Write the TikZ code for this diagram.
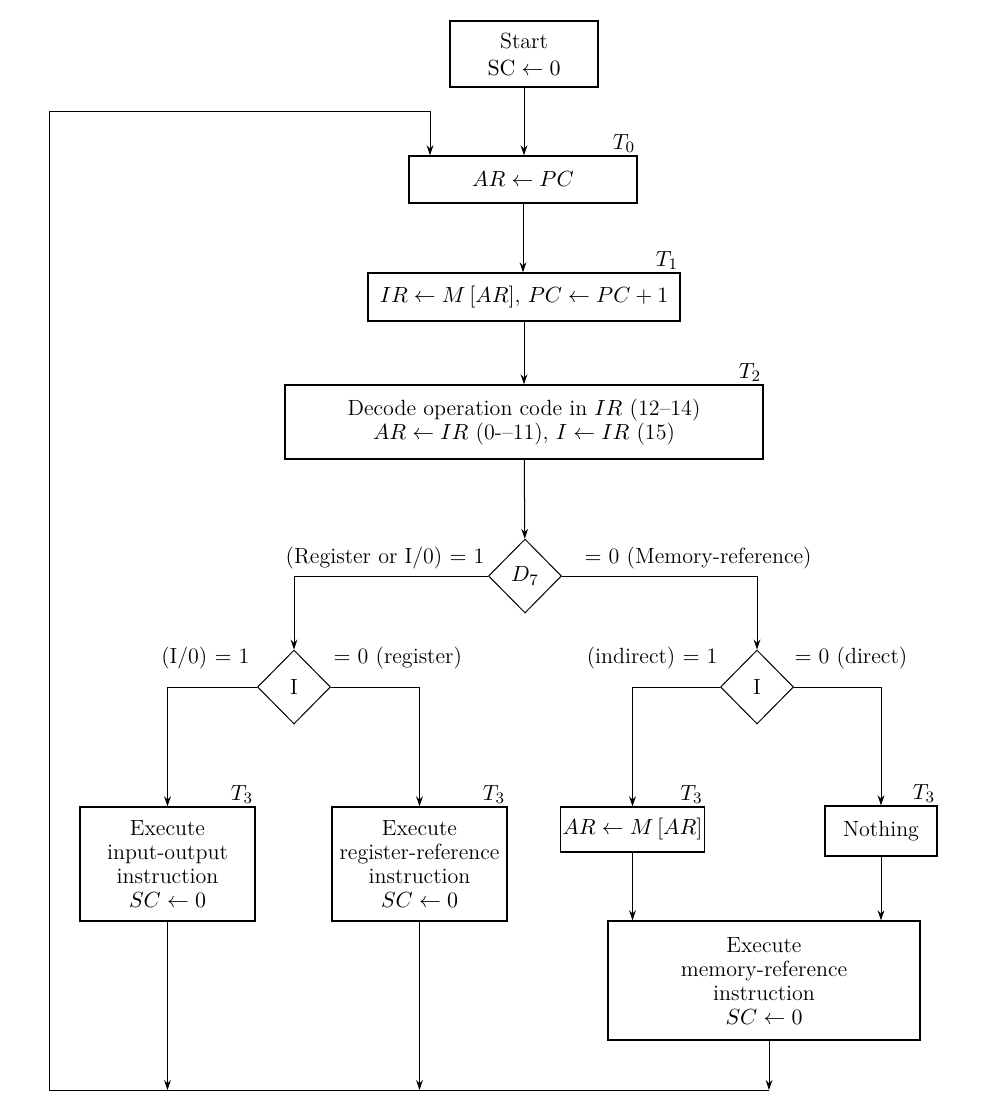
\documentclass[tikz,border=0pt]{standalone}
\usetikzlibrary{shapes.geometric,arrows.meta}
\begin{document}
\begin{tikzpicture}[x=0.5pt, y=-0.5pt, line width=0.5pt, >={Stealth[length=5pt,width=3.4pt]},
  every node/.style={font=\fontsize{11}{12}\selectfont},
  box/.style={draw, line width=0.7pt, align=center, inner sep=2pt},
  dec/.style={draw, diamond, aspect=1, inner sep=0pt, minimum width=36.5pt, minimum height=37pt},
  tlab/.style={anchor=south east, inner sep=1pt},
  elab/.style={inner sep=0pt}]
  \useasboundingbox (0,0) rectangle (1004,1114);
  % fetch and decode, one box per timing signal
  \node[box, minimum width=74pt, minimum height=33pt] (start) at (524,54) {Start\\[1.5pt] $\mathrm{SC}\leftarrow 0$};
  \node[box, minimum width=114pt, minimum height=23.5pt] (t0) at (523,179.5) {$AR\leftarrow PC$};
  \node[box, minimum width=156pt, minimum height=24pt] (t1) at (524,297) {$IR\leftarrow M\,[AR]$, $PC\leftarrow PC + 1$};
  \node[box, minimum width=239pt, minimum height=37pt] (dcd) at (524,422) {Decode operation code in $IR$ (12--14)\\ $AR\leftarrow IR$ (0-{}--11), $I\leftarrow IR$ (15)};
  \node[tlab] at (t0.north east) {$T_0$};
  \node[tlab] at (t1.north east) {$T_1$};
  \node[tlab] at (dcd.north east) {$T_2$};
  % decisions
  \node[dec] (d7) at (525,576) {$D_7$};
  \node[dec] (ia) at (294,687) {I};
  \node[dec] (ib) at (757,687) {I};
  \node[elab, anchor=base east] at ([xshift=-1.5pt,yshift=6.5pt]d7.west) {(Register or I/0) $=$ 1};
  \node[elab, anchor=base west] at ([xshift=11pt,yshift=6.5pt]d7.east) {$=$ 0 (Memory-reference)};
  \node[elab, anchor=base east] at ([xshift=-3.5pt,yshift=12pt]ia.west) {(I/0) $=$ 1};
  \node[elab, anchor=base west] at ([xshift=1pt,yshift=12pt]ia.east) {$=$ 0 (register)};
  \node[elab, anchor=base east] at ([xshift=-1pt,yshift=12pt]ib.west) {(indirect) $=$ 1};
  \node[elab, anchor=base west] at ([xshift=0pt,yshift=12pt]ib.east) {$=$ 0 (direct)};
  % execute at T3
  \node[box, minimum width=87.5pt, minimum height=57pt] (io) at (167.5,864) {Execute\\ input-output\\ instruction\\ $SC\leftarrow 0$};
  \node[box, minimum width=87.5pt, minimum height=57pt] (reg) at (419.5,864) {Execute\\ register-reference\\ instruction\\ $SC\leftarrow 0$};
  \node[box, minimum width=66.5pt, minimum height=22.5pt, inner sep=1pt] (ind) at (632.5,829.5) {$AR\leftarrow M\,[AR]$};
  \node[box, minimum width=56pt, minimum height=25pt] (noth) at (881,831) {Nothing};
  \node[box, minimum width=156pt, minimum height=59.5pt] (mem) at (764,980.5) {Execute\\ memory-reference\\ instruction\\ $SC\leftarrow 0$};
  \foreach \b in {io,reg,ind,noth} \node[tlab] at (\b.north east) {$T_3$};
  % connectors
  \coordinate (floor) at (49,1090);
  \coordinate (top) at (49,111);
  \coordinate (ret) at (769,1090);
  \draw[->] (start) -- (start |- t0.north);
  \draw[->] (t0) -- (t0 |- t1.north);
  \draw[->] (t1) -- (t1 |- dcd.north);
  \draw[->] (dcd) -- (d7);
  \draw[->] (d7.west) -| (ia);
  \draw[->] (d7.east) -| (ib);
  \draw[->] (ia.west) -| (io);
  \draw[->] (ia.east) -| (reg);
  \draw[->] (ib.west) -| (ind);
  \draw[->] (ib.east) -| (noth);
  \draw[->] (ind) -- (ind |- mem.north);
  \draw[->] (noth) -- (noth |- mem.north);
  \draw[->] (io) -- (io |- floor);
  \draw[->] (reg) -- (reg |- floor);
  \draw[->] (ret |- mem.south) -- (ret);
  \draw[->] (ret) -- (floor) -- (top) -| ([xshift=-46.5pt]t0.north);
\end{tikzpicture}
\end{document}
